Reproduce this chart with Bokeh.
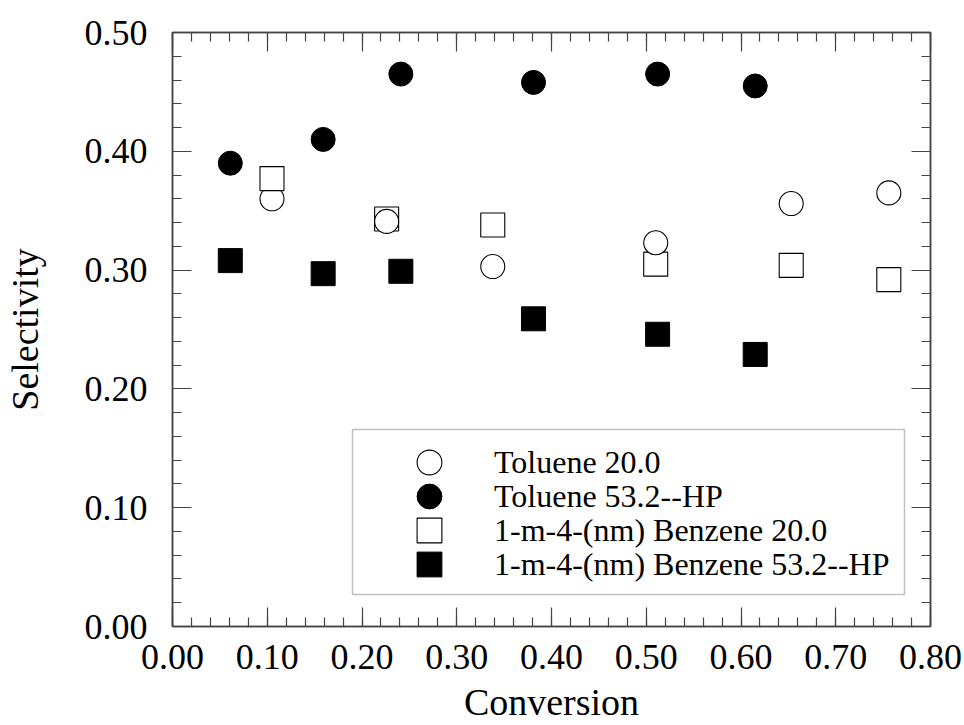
from bokeh.plotting import figure
from bokeh.embed import file_html
from bokeh.resources import INLINE
from bokeh.models import (LinearAxis, SingleIntervalTicker, NumeralTickFormatter,
                          CustomJSTickFormatter, Legend, LegendItem, ColumnDataSource,
                          CDSView, IndexFilter, Range1d, BoxAnnotation)

# ---- data ----
x_20 = [0.105, 0.226, 0.338, 0.510, 0.653, 0.756]
toluene_20 = [0.360, 0.341, 0.303, 0.323, 0.356, 0.365]
benzene_20 = [0.377, 0.343, 0.338, 0.305, 0.304, 0.292]

x_53 = [0.061, 0.159, 0.241, 0.381, 0.512, 0.615]
toluene_53 = [0.390, 0.410, 0.465, 0.458, 0.465, 0.455]
benzene_53 = [0.308, 0.297, 0.299, 0.259, 0.246, 0.229]

labels = ["Toluene 20.0", "Toluene 53.2--HP",
          "1-m-4-(nm) Benzene 20.0", "1-m-4-(nm) Benzene 53.2--HP"]

FONT = "Liberation Serif"
AX = "#444444"

p = figure(width=964, height=725, x_range=Range1d(0, 0.8), y_range=Range1d(0, 0.5),
           output_backend="svg", toolbar_location=None,
           min_border_left=172, min_border_right=34, min_border_top=32, min_border_bottom=98,
           x_axis_label="Conversion", y_axis_label="Selectivity")
p.grid.visible = False
p.outline_line_color = AX
p.outline_line_width = 1.5
p.background_fill_color = "white"
p.border_fill_color = "white"


def style_axis(ax, show_labels, standoff=20):
    ax.ticker = SingleIntervalTicker(interval=0.1, num_minor_ticks=5)
    ax.major_tick_in = 19
    ax.major_tick_out = 0
    ax.minor_tick_in = 9
    ax.minor_tick_out = 0
    ax.major_tick_line_color = AX
    ax.minor_tick_line_color = AX
    ax.major_tick_line_width = 1.2
    ax.minor_tick_line_width = 1.2
    ax.axis_line_color = AX
    ax.axis_line_width = 1.5
    if show_labels:
        ax.formatter = NumeralTickFormatter(format="0.00")
        ax.major_label_text_font = FONT
        ax.major_label_text_font_size = "36px"
        ax.major_label_text_color = "black"
        ax.major_label_standoff = standoff
        ax.axis_label_text_font = FONT
        ax.axis_label_text_font_size = "38px"
        ax.axis_label_text_font_style = "normal"
        ax.axis_label_text_color = "black"
    else:
        ax.formatter = CustomJSTickFormatter(code="return ''")
        ax.major_label_standoff = 0


style_axis(p.xaxis[0], True, standoff=18)
p.xaxis[0].axis_label_standoff = 9
style_axis(p.yaxis[0], True, standoff=25)
p.yaxis[0].axis_label_standoff = 36

right = LinearAxis()
style_axis(right, False)
p.add_layout(right, "right")
top = LinearAxis()
style_axis(top, False)
p.add_layout(top, "above")

src_t20 = ColumnDataSource(dict(x=x_20, y=toluene_20))
src_b20 = ColumnDataSource(dict(x=x_20, y=benzene_20))
src_t53 = ColumnDataSource(dict(x=x_53, y=toluene_53))
src_b53 = ColumnDataSource(dict(x=x_53, y=benzene_53))

open_kw = dict(fill_color="white", line_color="black", line_width=1.1, size=24)
fill_kw = dict(fill_color="black", line_color="black", line_width=1, size=24)

r_t20a = p.scatter("x", "y", source=src_t20, marker="circle",
                   view=CDSView(filter=IndexFilter([0])), **open_kw)
r_b20 = p.scatter("x", "y", source=src_b20, marker="square", **open_kw)
r_t20 = p.scatter("x", "y", source=src_t20, marker="circle",
                  view=CDSView(filter=IndexFilter([1, 2, 3, 4, 5])), **open_kw)
r_t53 = p.scatter("x", "y", source=src_t53, marker="circle", **fill_kw)
r_b53 = p.scatter("x", "y", source=src_b53, marker="square", **fill_kw)

# legend frame (screen units relative to the plot frame)
box = BoxAnnotation(left=180, right=732, bottom=32, top=197,
                    left_units="screen", right_units="screen",
                    bottom_units="screen", top_units="screen",
                    fill_color="white", fill_alpha=1.0,
                    line_color="#333333", line_width=1.5, level="annotation")
p.add_layout(box)

legend_renderers = [r_t20, r_t53, r_b20, r_b53]
legend_y = [133, 99, 65, 31]
for lab, rend, ly in zip(labels, legend_renderers, legend_y):
    lg = Legend(items=[LegendItem(label=lab, renderers=[rend])],
                location=(226, ly), orientation="vertical",
                glyph_width=62, glyph_height=62, spacing=0, padding=0,
                label_standoff=34, label_text_font=FONT, label_text_font_size="32px",
                label_text_color="black", border_line_color=None,
                background_fill_alpha=0.0, margin=0)
    p.add_layout(lg)

open("out.html", "w").write(file_html(p, INLINE))
